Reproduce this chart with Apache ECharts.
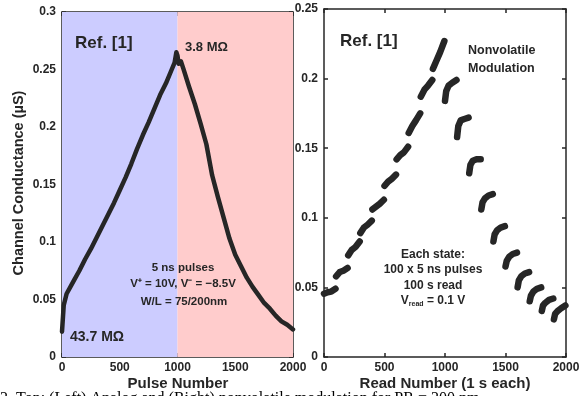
<!DOCTYPE html>
<html>
<head>
<meta charset="utf-8">
<script src="https://cdn.jsdelivr.net/npm/echarts@6/dist/echarts.min.js"></script>
<style>
  html, body { margin: 0; padding: 0; background: #fff; }
  #chart { width: 585px; height: 396px; }
</style>
</head>
<body>
<div id="chart"></div>
<script>
// left panel: analog modulation, conductance vs pulse number
const pulseNumber = [0, 15, 40, 100, 150, 200, 250, 300, 350, 400, 450, 500, 550, 600, 650, 700, 750,
  800, 850, 900, 950, 975, 990, 1000, 1010, 1030, 1050, 1100, 1150, 1200, 1250, 1300, 1350, 1400,
  1450, 1500, 1550, 1600, 1650, 1700, 1750, 1800, 1850, 1900, 1950, 2000]
const conductance = [0.022, 0.045, 0.055, 0.066, 0.075, 0.085, 0.094, 0.104, 0.114, 0.124, 0.134, 0.145,
  0.156, 0.168, 0.181, 0.193, 0.204, 0.216, 0.228, 0.238, 0.250, 0.256, 0.265, 0.262, 0.255, 0.257,
  0.251, 0.235, 0.220, 0.203, 0.185, 0.158, 0.139, 0.121, 0.103, 0.089, 0.079, 0.069, 0.061, 0.054,
  0.047, 0.042, 0.036, 0.031, 0.028, 0.024]

// right panel: 20 states, 100 reads each (read number, conductance)
const stateReads = [
  [[0, 0.0455], [30, 0.0465], [60, 0.047], [95, 0.049]],
  [[100, 0.058], [130, 0.061], [160, 0.062], [195, 0.064]],
  [[200, 0.073], [230, 0.077], [260, 0.079], [295, 0.083]],
  [[300, 0.089], [330, 0.093], [360, 0.095], [395, 0.098]],
  [[400, 0.106], [430, 0.108], [460, 0.110], [495, 0.113]],
  [[500, 0.123], [530, 0.126], [560, 0.128], [595, 0.131]],
  [[600, 0.142], [630, 0.145], [660, 0.147], [695, 0.151]],
  [[700, 0.161], [730, 0.166], [760, 0.170], [795, 0.175]],
  [[800, 0.187], [830, 0.192], [860, 0.195], [895, 0.199]],
  [[900, 0.207], [930, 0.213], [960, 0.219], [995, 0.227]],
  [[1000, 0.184], [1010, 0.191], [1030, 0.195], [1060, 0.197], [1095, 0.199]],
  [[1100, 0.158], [1110, 0.166], [1130, 0.170], [1160, 0.171], [1195, 0.172]],
  [[1200, 0.132], [1210, 0.138], [1230, 0.141], [1260, 0.142], [1295, 0.142]],
  [[1300, 0.106], [1310, 0.111], [1330, 0.114], [1360, 0.116], [1395, 0.117]],
  [[1400, 0.083], [1410, 0.088], [1430, 0.091], [1460, 0.093], [1495, 0.094]],
  [[1500, 0.065], [1510, 0.069], [1530, 0.072], [1560, 0.074], [1595, 0.075]],
  [[1600, 0.050], [1610, 0.055], [1630, 0.058], [1660, 0.060], [1695, 0.061]],
  [[1700, 0.040], [1710, 0.044], [1730, 0.047], [1760, 0.049], [1795, 0.050]],
  [[1800, 0.033], [1810, 0.037], [1830, 0.039], [1860, 0.041], [1895, 0.042]],
  [[1900, 0.027], [1910, 0.031], [1930, 0.033], [1960, 0.035], [1995, 0.037]],
]

const xTicks = ['0', '500', '1000', '1500', '2000']
const leftYTicks = ['0', '0.05', '0.1', '0.15', '0.2', '0.25', '0.3']
const rightYTicks = ['0', '0.05', '0.1', '0.15', '0.2', '0.25']

const font = 'Liberation Sans, Arial, sans-serif'
const ink = '#262626'

const chart = echarts.init(document.getElementById('chart'), null, { renderer: 'canvas' })

function xAx(grid, pos, show) {
  return {
    type: 'value', gridIndex: grid, position: pos, min: 0, max: 2000, interval: 500,
    axisLine: { show: true, onZero: false, lineStyle: { color: ink, width: 1.5 } },
    axisTick: { show: true, inside: true, length: 4, lineStyle: { color: ink, width: 1.5 } },
    axisLabel: {
      show: show, color: ink, fontFamily: font, fontWeight: 'bold', fontSize: 12, margin: 5,
      formatter: function (v) { return xTicks[Math.round(v / 500)] },
    },
    splitLine: { show: false },
  }
}
function yAx(grid, pos, max, ticks, show) {
  return {
    type: 'value', gridIndex: grid, position: pos, min: 0, max: max, interval: 0.05,
    axisLine: { show: true, onZero: false, lineStyle: { color: ink, width: 1.5 } },
    axisTick: { show: true, inside: true, length: 4, lineStyle: { color: ink, width: 1.5 } },
    axisLabel: {
      show: show, color: ink, fontFamily: font, fontWeight: 'bold', fontSize: 12, margin: 6,
      formatter: function (v) { return ticks[Math.round(v / 0.05)] },
    },
    splitLine: { show: false },
  }
}

const series = [
  {
    type: 'line', xAxisIndex: 0, yAxisIndex: 0, showSymbol: false, silent: true,
    data: pulseNumber.map(function (p, i) { return [p, conductance[i]] }),
    lineStyle: { color: ink, width: 4.5, cap: 'round', join: 'round' },
    markArea: {
      silent: true,
      data: [
        [{ xAxis: 0, itemStyle: { color: '#ccccff' } }, { xAxis: 1000 }],
        [{ xAxis: 1000, itemStyle: { color: '#ffcccc' } }, { xAxis: 2000 }],
      ],
    },
    z: 3,
  },
]
stateReads.forEach(function (seg) {
  series.push({
    type: 'line', xAxisIndex: 2, yAxisIndex: 2, showSymbol: false, silent: true,
    data: seg,
    lineStyle: { color: ink, width: 6.5, cap: 'round', join: 'round' },
  })
})

function label(x, y, text, size, align, rotation) {
  return {
    type: 'text', x: x, y: y, z: 100, rotation: rotation || 0,
    style: {
      text: text, fill: ink, font: 'bold ' + size + 'px ' + font,
      textAlign: align || 'left', textVerticalAlign: 'middle',
    },
  }
}

const option = {
  animation: false,
  grid: [
    { left: 62, top: 12, width: 231, height: 345 },
    { left: 324, top: 9, width: 242, height: 348 },
  ],
  xAxis: [xAx(0, 'bottom', true), xAx(0, 'top', false), xAx(1, 'bottom', true), xAx(1, 'top', false)],
  yAxis: [
    yAx(0, 'left', 0.3, leftYTicks, true), yAx(0, 'right', 0.3, leftYTicks, false),
    yAx(1, 'left', 0.25, rightYTicks, true), yAx(1, 'right', 0.25, rightYTicks, false),
  ],
  series: series,
  graphic: {
    elements: [
      label(19, 183, 'Channel Conductance (µS)', 14.5, 'center', Math.PI / 2),
      label(178, 384, 'Pulse Number', 15, 'center'),
      label(445, 384, 'Read Number (1 s each)', 15, 'center'),
      label(75, 43, 'Ref. [1]', 17),
      label(185, 47, '3.8 MΩ', 13),
      label(70, 337, '43.7 MΩ', 14),
      label(183, 268, '5 ns pulses', 11.5, 'center'),
      label(183, 284, 'V⁺ = 10V, V⁻ = −8.5V', 11.5, 'center'),
      label(184, 302, 'W/L = 75/200nm', 11.5, 'center'),
      label(340, 41, 'Ref. [1]', 17),
      label(468, 51, 'Nonvolatile', 12.5),
      label(468, 69, 'Modulation', 12.5),
      label(433, 255, 'Each state:', 12, 'center'),
      label(433, 270, '100 x 5 ns pulses', 12, 'center'),
      label(433, 286, '100 s read', 12, 'center'),
      {
        type: 'text', x: 433, y: 301, z: 100,
        style: {
          text: '{b|V}{s|read}{b| = 0.1 V}', textAlign: 'center', textVerticalAlign: 'middle',
          rich: {
            b: { fill: ink, font: 'bold 12px ' + font },
            s: { fill: ink, font: 'bold 7px ' + font, padding: [6, 0, 0, 0] },
          },
        },
      },
      // figure caption, cut off by the bottom edge
      {
        type: 'text', x: 0, y: 391, z: 100,
        style: { text: '2. Top: (Left) Analog and (Right) nonvolatile modulation for PR = 200 nm', fill: '#000', font: '16px Liberation Serif, serif' },
      },
    ],
  },
}
chart.setOption(option)
</script>
</body>
</html>
